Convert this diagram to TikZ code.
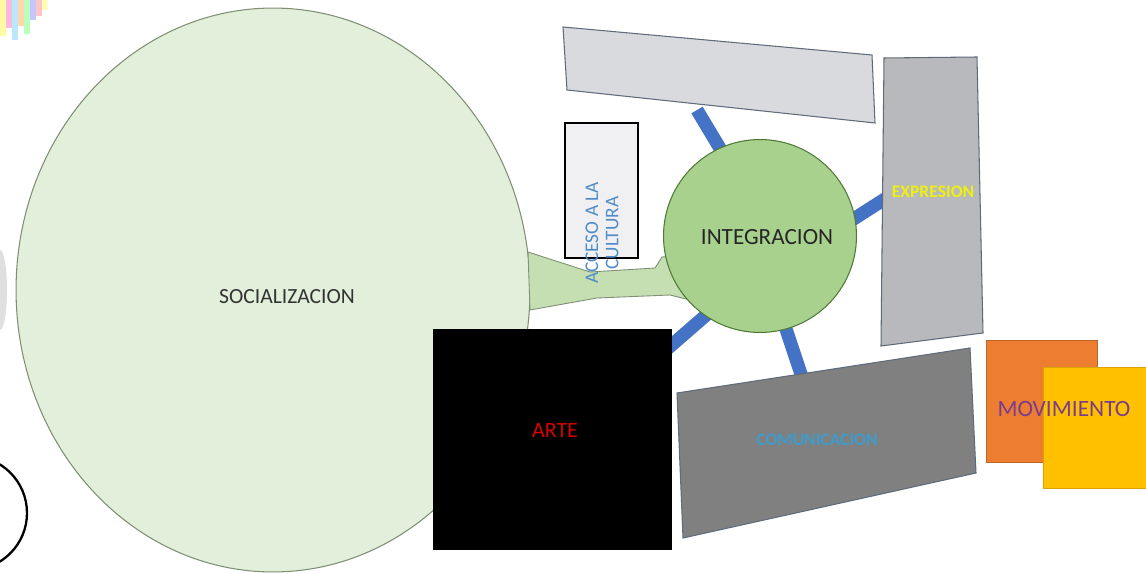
\documentclass[tikz,border=0pt]{standalone}
\usepackage{fontspec}
\setmainfont{Carlito}
\usetikzlibrary{shapes.geometric}
\definecolor{socfill}{HTML}{E2EFDA}
\definecolor{socline}{HTML}{7F8F74}
\definecolor{intfill}{HTML}{A9D18E}
\definecolor{intline}{HTML}{4F7A35}
\definecolor{bridge}{HTML}{C5DFB2}
\definecolor{spoke}{HTML}{4472C4}
\definecolor{topgray}{HTML}{D9DADE}
\definecolor{expgray}{HTML}{B8B9BC}
\definecolor{darkbox}{HTML}{808080}
\definecolor{edgegray}{HTML}{5F6B7A}
\definecolor{accfill}{HTML}{F0F0F2}
\definecolor{acctext}{HTML}{4E8CC8}
\definecolor{orangebox}{HTML}{ED7D31}
\definecolor{yellowbox}{HTML}{FFC000}
\definecolor{movtext}{HTML}{7A3C8C}
\definecolor{exptext}{HTML}{F0F010}
\definecolor{comtext}{HTML}{3F9BC9}
\begin{document}
\begin{tikzpicture}[x=0.02cm,y=-0.02cm,
  spokeline/.style={draw=spoke,line width=7.5pt},
  quadbox/.style={draw=edgegray,line width=0.6pt},
  lbl/.style={inner sep=0pt,font=\fontsize{#1}{#1}\selectfont},
  lbl/.default=12]
\useasboundingbox (0,0) rectangle (1146,574);
\fill[white] (0,0) rectangle (1146,574);
% decorative corner streaks
\foreach \xx/\hh/\cc in {0/36/yellow!80,6/28/magenta!60,12/40/cyan!60,18/26/orange!70,24/34/green!60,30/20/blue!50,36/16/red!50,42/10/yellow!60}
  \fill[\cc,opacity=0.45] (\xx,0) rectangle (\xx+6,\hh);
\fill[gray,opacity=0.25] (0,290) ellipse (7 and 40);
% bottom-left partial circle
\draw[black,line width=1.3pt,fill=white] (-30,513) circle (57);
% spokes
\coordinate (s1a) at (697,110); \coordinate (s1b) at (724,155);
\coordinate (s2a) at (852,220); \coordinate (s2b) at (888,197);
\coordinate (s3a) at (712,310); \coordinate (s3b) at (666,350);
\coordinate (s4a) at (783,320); \coordinate (s4b) at (803,380);
\draw[spokeline] (s1a) -- (s1b);
\draw[spokeline] (s2a) -- (s2b);
\draw[spokeline] (s3a) -- (s3b);
\draw[spokeline] (s4a) -- (s4b);
% socializacion ellipse
\node[ellipse,draw=socline,fill=socfill,line width=0.6pt,inner sep=0pt,
  minimum width=10.28cm,minimum height=11.28cm] (soc) at (273,290) {};
\node[lbl=12.3,text=black!80] (soctext) at (287,297) {SOCIALIZACION};
% green bridge
\fill[bridge,draw=socline,line width=0.5pt]
  (528,252) -- (590,272) -- (655,268) -- (662,257) -- (690,255)
  -- (690,300) -- (670,295) -- (597,298) -- (530,310) -- cycle;
% top light gray box
\coordinate (t1) at (563,27); \coordinate (t2) at (872,55);
\coordinate (t3) at (875,123); \coordinate (t4) at (567,90);
\filldraw[quadbox,fill=topgray] (t1) -- (t2) -- (t3) -- (t4) -- cycle;
% expresion box
\coordinate (e1) at (884,58); \coordinate (e2) at (977,57);
\coordinate (e3) at (983,333); \coordinate (e4) at (881,346);
\filldraw[quadbox,fill=expgray] (e1) -- (e2) -- (e3) -- (e4) -- cycle;
\node[lbl=9.5,text=exptext,font=\bfseries] (exptxt) at (933,192) {EXPRESION};
% acceso box
\node[draw=black,fill=accfill,line width=0.8pt,inner sep=0pt,
  minimum width=1.46cm,minimum height=2.7cm] (acc) at (601.5,190.5) {};
% integracion circle
\node[circle,draw=intline,fill=intfill,line width=0.6pt,inner sep=0pt,
  minimum size=3.86cm] (integ) at (760,236) {};
\node[lbl=13.2,text=black!85] (integtxt) at (767,237) {INTEGRACION};
\node[lbl=11,text=acctext,rotate=90,align=center] (acctxt) at (602,233)
  {ACCESO A LA\\[0.5pt]CULTURA};
% arte box
\node[fill=black,inner sep=0pt,minimum width=4.78cm,minimum height=4.42cm]
  (arte) at (552.5,439.5) {};
\node[lbl=12.5,text=red!85!black] (artetxt) at (555,430) {ARTE};
% dark gray box
\coordinate (d1) at (677,393); \coordinate (d2) at (970,348);
\coordinate (d3) at (976,473); \coordinate (d4) at (683,538);
\filldraw[quadbox,fill=darkbox] (d1) -- (d2) -- (d3) -- (d4) -- cycle;
\node[lbl=8.5,text=comtext,font=\bfseries] (comtxt) at (817,440) {COMUNICACION};
% movimiento
\node[fill=orangebox,draw=orangebox!80!black,line width=0.3pt,inner sep=0pt,
  minimum width=2.22cm,minimum height=2.44cm] (orange) at (1041.5,401) {};
\node[fill=yellowbox,draw=yellowbox!85!black,line width=0.3pt,inner sep=0pt,
  minimum width=2.1cm,minimum height=2.42cm] (yellow) at (1096,427.5) {};
\node[lbl=13.3,text=movtext] (movtxt) at (1064,409) {MOVIMIENTO};
\end{tikzpicture}
\end{document}
